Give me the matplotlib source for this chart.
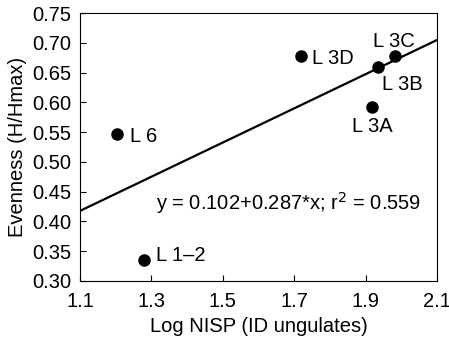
import numpy as np
import matplotlib.pyplot as plt

plt.rcParams['font.family'] = ['Liberation Sans', 'DejaVu Sans']

# log NISP vs evenness per level
labels = ["L 6", "L 1\u20132", "L 3D", "L 3A", "L 3B", "L 3C"]
log_nisp = [1.204, 1.280, 1.718, 1.919, 1.936, 1.982]
evenness = [0.547, 0.335, 0.678, 0.593, 0.660, 0.677]

# regression y = a + b*x
a, b = 0.102, 0.287
r2 = 0.559

fs = 14.5
fig = plt.figure(figsize=(4.49, 3.40), dpi=100)
ax = fig.add_axes([80/449, 1 - 281/340, 357/449, 268/340])

xl = np.array([1.1, 2.1])
ax.plot(xl, a + b*xl, color="black", lw=1.6)
ax.plot(log_nisp, evenness, "ko", ms=8)

# label offsets in points (x, y, ha)
offs = {"L 6": (9, -2, "left"), "L 1\u20132": (8.5, 3.5, "left"),
        "L 3D": (8, -2, "left"), "L 3A": (0, -14.5, "center"),
        "L 3B": (17, -13, "center"), "L 3C": (-1, 11, "center")}
for lab, x, y in zip(labels, log_nisp, evenness):
    dx, dy, ha = offs[lab]
    ax.annotate(lab, (x, y), xytext=(dx, dy), textcoords="offset points",
                ha=ha, va="center", fontsize=fs)

ax.text(1.313, 0.431, "y = %.3f+%.3f*x; r$^2$ = %.3f" % (a, b, r2),
        fontsize=fs, va="center")

ax.set_xlim(1.1, 2.1)
ax.set_ylim(0.30, 0.75)
ax.set_xticks([1.1, 1.3, 1.5, 1.7, 1.9, 2.1])
ax.set_yticks(np.arange(0.30, 0.751, 0.05))
ax.set_xticklabels(["1.1", "1.3", "1.5", "1.7", "1.9", "2.1"])
ax.set_yticklabels(["%.2f" % v for v in np.arange(0.30, 0.751, 0.05)])
ax.tick_params(direction="in", length=4, labelsize=fs)
ax.tick_params(axis="x", pad=8)
ax.tick_params(axis="y", pad=6.5)
ax.set_xlabel("Log NISP (ID ungulates)", fontsize=fs, labelpad=4.5)
ax.set_ylabel("Evenness (H/Hmax)", fontsize=fs, labelpad=3.5)

fig.savefig("out.png", dpi=100)
